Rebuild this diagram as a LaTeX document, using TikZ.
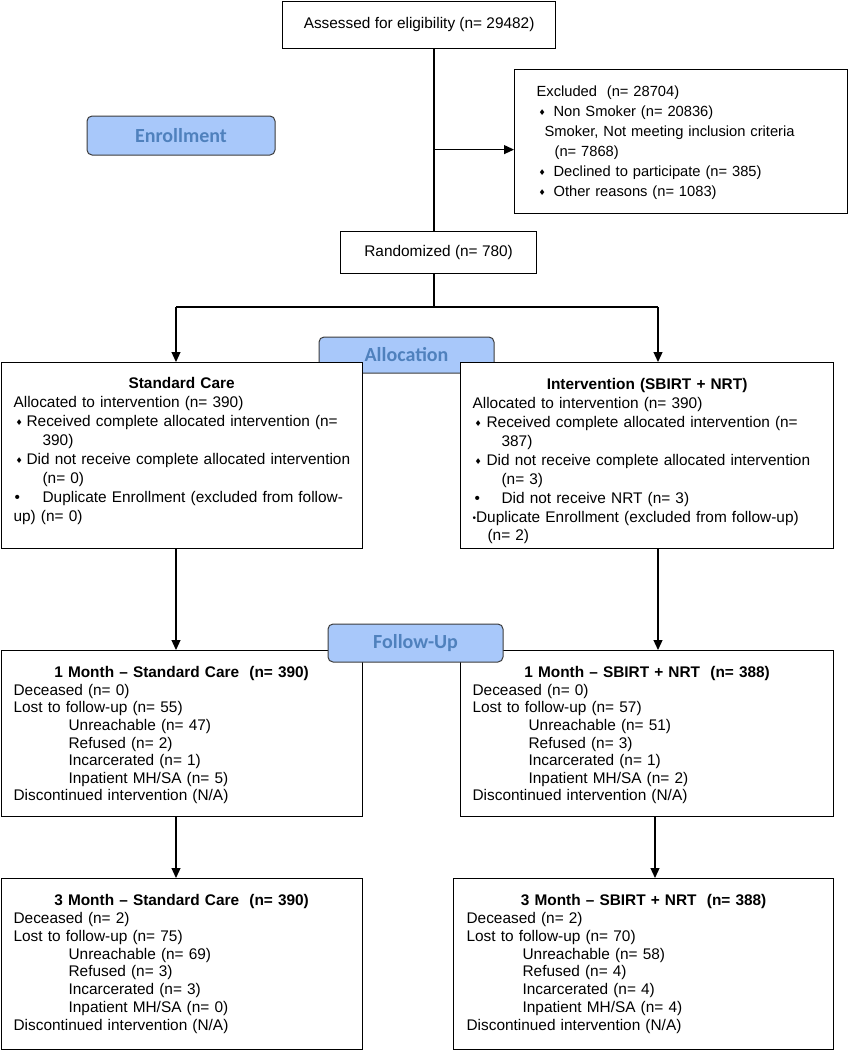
\documentclass[tikz,border=0pt]{standalone}
\usepackage{fontspec}
\setmainfont{Liberation Sans}
\newfontfamily\dejavu{DejaVu Sans}
\newfontfamily\calfont{Carlito}
\usepackage{xcolor}
\usetikzlibrary{arrows.meta, calc}
\definecolor{stagefill}{RGB}{168,200,250}
\definecolor{stagetext}{RGB}{79,129,189}
\definecolor{stageline}{RGB}{60,60,60}
\newcommand{\dbul}{\raisebox{1.2pt}{\dejavu\fontsize{8}{8}\selectfont ♦}}
\newcommand{\rbul}{•}
\newcommand{\sbul}{\raisebox{1pt}{\fontsize{10}{10}\selectfont •}}

\begin{document}
\begin{tikzpicture}[x=1pt, y=-1pt, line width=1.2pt,
    box/.style={draw, fill=white, inner sep=0pt, anchor=north west},
    txt/.style={inner sep=0pt, anchor=north west, align=left, text width=420pt,
      font=\fontsize{15.4}{18.9}\selectfont},
    stage/.style={draw=stageline, line width=1pt, fill=stagefill, rounded corners=5pt,
      text=stagetext, font=\calfont\bfseries\fontsize{20}{24}\selectfont},
    arr/.style={-{Triangle[length=10pt,width=9pt]}} ]
    \useasboundingbox (0,0) rectangle (849,1050);
    % enrollment
    \node [stage, minimum width=188pt, minimum height=39pt] (enroll) at (181,135.5) {Enrollment};
    \node [box, minimum width=273pt, minimum height=47.5pt, anchor=north west,
      font=\fontsize{15.4}{18}\selectfont] (assess) at (282,0.6) {Assessed for eligibility (n= 29482)};
    \node [box, minimum width=333pt, minimum height=144pt] (excl) at (514,69) {};
    \node [txt, font=\fontsize{14.7}{20}\selectfont] (excltext) at (536,85) {Excluded~ (n= 28704)\\
      \makebox[17pt][l]{\hspace*{2pt}\dbul}Non Smoker (n= 20836)\\
      \hspace*{8pt}Smoker, Not meeting inclusion criteria\\
      \hspace*{18pt}(n= 7868)\\
      \makebox[17pt][l]{\hspace*{2pt}\dbul}Declined to participate (n= 385)\\
      \makebox[17pt][l]{\hspace*{2pt}\dbul}Other reasons (n= 1083)};
    \node [box, minimum width=196pt, minimum height=42pt,
      font=\fontsize{15.4}{18}\selectfont] (rand) at (340,231) {Randomized (n= 780)};
    % allocation
    \node [stage, minimum width=175pt, minimum height=36pt] (alloc) at (406.5,355) {Allocation};
    \node [box, minimum width=361pt, minimum height=186pt] (sc) at (0.6,362) {};
    \node [box, minimum width=373pt, minimum height=186pt] (int) at (460,362) {};
    \node [txt] (sctext) at (13,377) {\makebox[336pt]{\bfseries Standard Care}\\
      Allocated to intervention (n= 390)\\
      \makebox[13pt][l]{\hspace*{2pt}\dbul}Received complete allocated intervention (n=\\
      \hspace*{29pt}390)\\
      \makebox[13pt][l]{\hspace*{2pt}\dbul}Did not receive complete allocated intervention\\
      \hspace*{29pt}(n= 0)\\
      \makebox[29pt][l]{\hspace*{1pt}\rbul}Duplicate Enrollment (excluded from follow-\\
      up) (n= 0)};
    \node [txt] (inttext) at (472,378) {\makebox[349pt]{\bfseries Intervention (SBIRT + NRT)}\\
      Allocated to intervention (n= 390)\\
      \makebox[14pt][l]{\hspace*{2pt}\dbul}Received complete allocated intervention (n=\\
      \hspace*{29pt}387)\\
      \makebox[14pt][l]{\hspace*{2pt}\dbul}Did not receive complete allocated intervention\\
      \hspace*{29pt}(n= 3)\\
      \makebox[29pt][l]{\hspace*{2pt}\rbul}Did not receive NRT (n= 3)\\
      \sbul Duplicate Enrollment (excluded from follow-up)\\
      \hspace*{15pt}(n= 2)};
    % follow-up
    \node [box, minimum width=361pt, minimum height=166pt] (m1sc) at (0.6,650) {};
    \node [box, minimum width=373pt, minimum height=166pt] (m1int) at (460,650) {};
    \node [txt, font=\fontsize{15.4}{17.6}\selectfont] (m1sctext) at (13,666) {\makebox[336pt]{\bfseries 1 Month – Standard Care~ (n= 390)}\\
      Deceased (n= 0)\\
      Lost to follow-up (n= 55)\\
      \hspace*{55pt}Unreachable (n= 47)\\
      \hspace*{55pt}Refused (n= 2)\\
      \hspace*{55pt}Incarcerated (n= 1)\\
      \hspace*{55pt}Inpatient MH/SA (n= 5)\\
      Discontinued intervention (N/A)};
    \node [txt, font=\fontsize{15.4}{17.6}\selectfont] (m1inttext) at (472,666) {\makebox[349pt]{\bfseries 1 Month – SBIRT + NRT~ (n= 388)}\\
      Deceased (n= 0)\\
      Lost to follow-up (n= 57)\\
      \hspace*{56pt}Unreachable (n= 51)\\
      \hspace*{56pt}Refused (n= 3)\\
      \hspace*{56pt}Incarcerated (n= 1)\\
      \hspace*{56pt}Inpatient MH/SA (n= 2)\\
      Discontinued intervention (N/A)};
    \node [stage, minimum width=175pt, minimum height=38pt] (follow) at (415.5,643) {Follow-Up};
    \node [box, minimum width=361pt, minimum height=170.5pt] (m3sc) at (0.6,878) {};
    \node [box, minimum width=380pt, minimum height=170.5pt] (m3int) at (453,878) {};
    \node [txt, font=\fontsize{15.4}{17.8}\selectfont] (m3sctext) at (13,894) {\makebox[336pt]{\bfseries 3 Month – Standard Care~ (n= 390)}\\
      Deceased (n= 2)\\
      Lost to follow-up (n= 75)\\
      \hspace*{55pt}Unreachable (n= 69)\\
      \hspace*{55pt}Refused (n= 3)\\
      \hspace*{55pt}Incarcerated (n= 3)\\
      \hspace*{55pt}Inpatient MH/SA (n= 0)\\
      Discontinued intervention (N/A)};
    \node [txt, font=\fontsize{15.4}{17.8}\selectfont] (m3inttext) at (466,894) {\makebox[354pt]{\bfseries 3 Month – SBIRT + NRT~ (n= 388)}\\
      Deceased (n= 2)\\
      Lost to follow-up (n= 70)\\
      \hspace*{56pt}Unreachable (n= 58)\\
      \hspace*{56pt}Refused (n= 4)\\
      \hspace*{56pt}Incarcerated (n= 4)\\
      \hspace*{56pt}Inpatient MH/SA (n= 4)\\
      Discontinued intervention (N/A)};
    % connectors
    \coordinate (spine) at (434,0);
    \coordinate (lft) at (176,307);
    \coordinate (rgt) at (658,307);
    \coordinate (rgtb) at (655,0);
    \draw (spine |- assess.south) -- (spine |- rand.north);
    \draw [arr] (spine |- excl.west) ++(0,8) -- ([yshift=-8pt]excl.west);
    \draw (spine |- rand.south) -- (spine |- lft);
    \draw (lft) -- (rgt);
    \draw [arr] (lft) -- (lft |- sc.north);
    \draw [arr] (rgt) -- (rgt |- int.north);
    \draw [arr] (lft |- sc.south) -- (lft |- m1sc.north);
    \draw [arr] (rgt |- int.south) -- (rgt |- m1int.north);
    \draw [arr] (lft |- m1sc.south) -- (lft |- m3sc.north);
    \draw [arr] (rgtb |- m1int.south) -- (rgtb |- m3int.north);
\end{tikzpicture}
\end{document}
